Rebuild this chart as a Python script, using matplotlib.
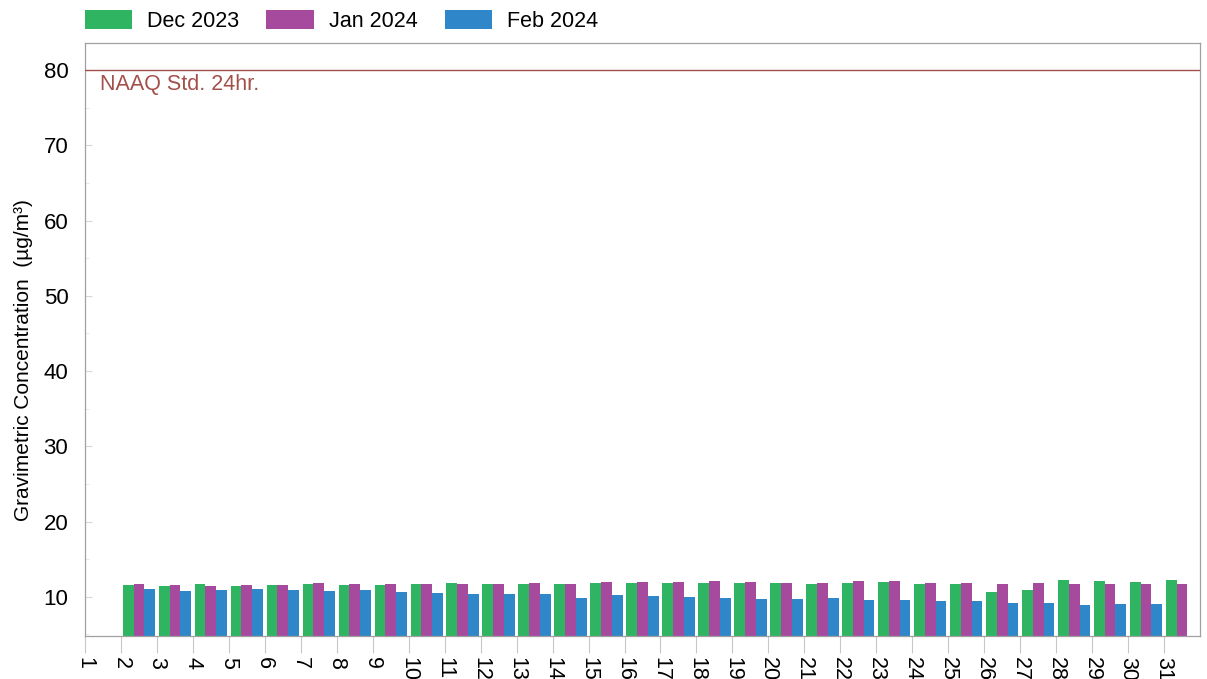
import numpy as np
import matplotlib
matplotlib.use("Agg")
import matplotlib.pyplot as plt
from matplotlib.patches import Patch

plt.rcParams['font.family'] = ['Liberation Sans', 'DejaVu Sans']

# Day of month (tick labels) and daily gravimetric concentrations (µg/m³)
days = list(range(1, 32))
dec_2023 = [np.nan, 11.6, 11.5, 11.7, 11.5, 11.6, 11.65, 11.6, 11.6, 11.7,
            11.85, 11.65, 11.75, 11.75, 11.85, 11.85, 11.85, 11.85, 11.9, 11.8,
            11.7, 11.9, 11.95, 11.75, 11.7, 10.6, 10.9, 12.2, 12.1, 12.0, 12.2]
jan_2024 = [np.nan, 11.7, 11.6, 11.5, 11.6, 11.55, 11.8, 11.65, 11.7, 11.7,
            11.65, 11.65, 11.9, 11.75, 12.0, 12.0, 12.0, 12.05, 11.95, 11.8,
            11.9, 12.05, 12.05, 11.8, 11.85, 11.75, 11.85, 11.65, 11.65, 11.7, 11.65]
feb_2024 = [np.nan, 11.0, 10.8, 10.9, 11.1, 10.85, 10.8, 10.85, 10.7, 10.5,
            10.4, 10.4, 10.35, 9.9, 10.2, 10.1, 10.0, 9.8, 9.75, 9.75,
            9.9, 9.6, 9.6, 9.4, 9.5, 9.15, 9.15, 8.95, 9.0, 9.0, np.nan]
series_names = ["Dec 2023", "Jan 2024", "Feb 2024"]
series_colors = ["#2fb562", "#a64a9e", "#2f87c9"]
naaq_std = 80
naaq_label = "NAAQ Std. 24hr."
y_label = "Gravimetric Concentration  (µg/m³)"
y_ticks = [10, 20, 30, 40, 50, 60, 70, 80]

fig = plt.figure(figsize=(12.07, 6.79), dpi=100)
ax = fig.add_axes([85 / 1207, 1 - 636 / 679, 1115 / 1207, 593 / 679])

x = np.array(days, dtype=float)
bar_w = 0.3
for i, (vals, color, name) in enumerate(zip([dec_2023, jan_2024, feb_2024],
                                             series_colors, series_names)):
    # each day's group sits between its own tick and the next one
    xpos = x + 0.05 + bar_w * (i + 0.5)
    vals = np.array(vals, dtype=float)
    ax.bar(xpos, vals, width=bar_w, color=color, label=name, edgecolor='none',
           zorder=2)

# 24-hour standard line
ax.axhline(naaq_std, color="#a3504b", lw=1.0, zorder=3)
ax.annotate(naaq_label, xy=(1, naaq_std), xytext=(11, -3),
            textcoords='offset points', ha='left', va='top',
            fontsize=15.5, color="#a3504b")

ax.set_xlim(1, 32)
ax.set_ylim(4.8, 83.6)

ax.set_xticks(days)
ax.set_xticklabels([str(d) for d in days], rotation=-90, fontsize=15.5,
                   va='top', ha='center')
ax.tick_params(axis='x', direction='out', length=12, color='#c8c8c8',
               width=0.8, pad=3)

ax.set_yticks(y_ticks)
ax.set_yticklabels([str(v) for v in y_ticks], fontsize=16)
ax.set_yticks([v + 5 for v in [0] + y_ticks[:-1]], minor=True)
ax.tick_params(axis='y', which='major', direction='in', length=5,
               color='#d8d8d8', width=0.8, pad=12)
ax.tick_params(axis='y', which='minor', direction='in', length=3,
               color='#e4e4e4', width=0.6)
ax.set_ylabel(y_label, fontsize=15)
ax.yaxis.set_label_coords(-0.047, 0.465)

for s in ax.spines.values():
    s.set_color('#a0a0a0')
    s.set_linewidth(0.9)

handles = [Patch(facecolor=c, edgecolor='none') for c in series_colors]
fig.legend(handles, series_names, loc='upper left',
           bbox_to_anchor=(85 / 1207, 1 - 10 / 679), ncol=3, frameon=False,
           fontsize=15.5, handlelength=2.2, handleheight=0.95,
           handletextpad=0.7, columnspacing=1.25, borderpad=0, borderaxespad=0)

fig.savefig("out.png", dpi=100)
